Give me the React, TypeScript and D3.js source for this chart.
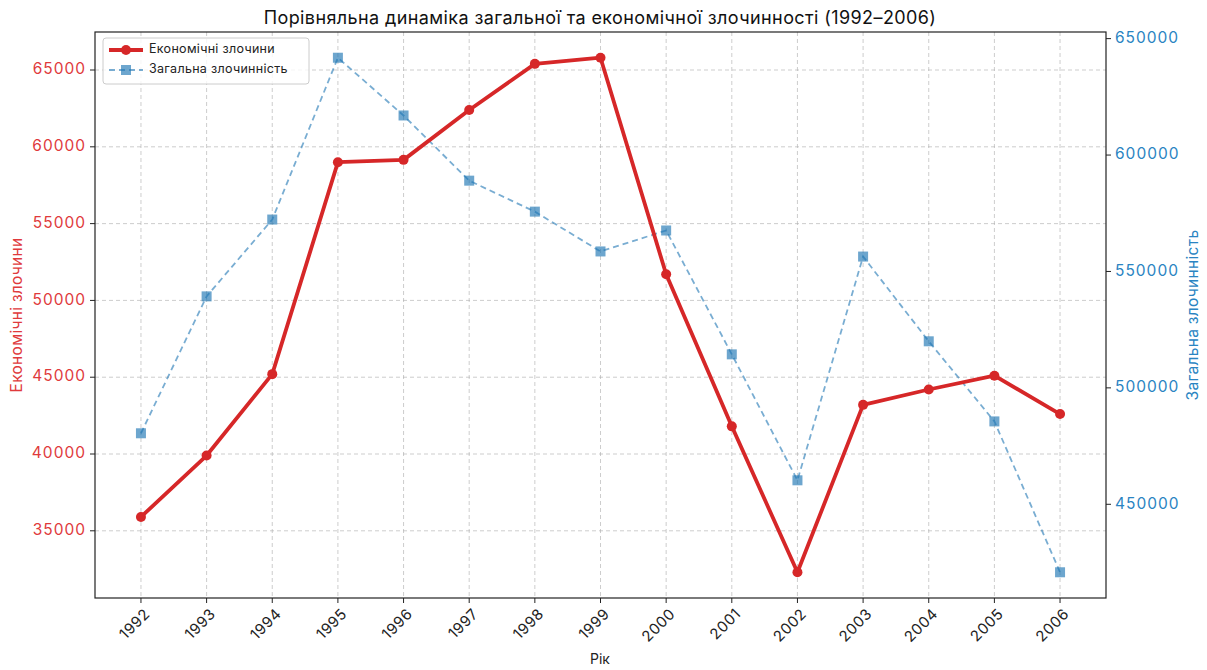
import React from "react";
import * as d3 from "d3";

const years = [1992, 1993, 1994, 1995, 1996, 1997, 1998, 1999, 2000, 2001, 2002, 2003, 2004, 2005, 2006];
const economic = [35900, 39900, 45200, 59000, 59150, 62400, 65400, 65800, 51700, 41800, 32300, 43200, 44200, 45100, 42600];
const total = [480500, 539300, 572300, 641800, 617000, 589000, 575700, 558600, 567600, 514400, 460300, 556400, 520000, 485600, 420800];
const leftTicks = [35000, 40000, 45000, 50000, 55000, 60000, 65000];
const rightTicks = [450000, 500000, 550000, 600000, 650000];

const W = 1207, H = 670;
const L = 95, R = 1106, T = 32, B = 598;
const RED = "#d62728";
const BLUE = "#1f77b4";
const FONT = "Inter, 'Noto Sans', sans-serif";

function pad(min: number, max: number): [number, number] {
  const m = (max - min) * 0.05;
  return [min - m, max + m];
}

export default function App() {
  const x = d3.scaleLinear().domain(pad(years[0], years[years.length - 1])).range([L, R]);
  const yL = d3.scaleLinear().domain(pad(d3.min(economic)!, d3.max(economic)!)).range([B, T]);
  const yR = d3.scaleLinear().domain(pad(d3.min(total)!, d3.max(total)!)).range([B, T]);

  const lineE = d3.line<number>().x((_, i) => x(years[i])).y((d) => yL(d));
  const lineT = d3.line<number>().x((_, i) => x(years[i])).y((d) => yR(d));

  return (
    <svg width={W} height={H} style={{ display: "block", position: "absolute", left: 0, top: 0 }} fontFamily={FONT}>
      <rect width={W} height={H} fill="#fff" />
      {/* grid */}
      {years.map((yr) => (
        <line key={"gx" + yr} x1={x(yr)} x2={x(yr)} y1={T} y2={B} stroke="#b0b0b0" strokeOpacity={0.7} strokeDasharray="4,3" strokeWidth={0.9} />
      ))}
      {leftTicks.map((t) => (
        <line key={"gy" + t} x1={L} x2={R} y1={yL(t)} y2={yL(t)} stroke="#b0b0b0" strokeOpacity={0.7} strokeDasharray="4,3" strokeWidth={0.9} />
      ))}
      {/* total series */}
      <path d={lineT(total)!} fill="none" stroke={BLUE} strokeOpacity={0.6} strokeWidth={1.8} strokeDasharray="6,4" />
      {total.map((v, i) => (
        <rect key={"t" + i} x={x(years[i]) - 5} y={yR(v) - 5} width={10} height={10} fill={BLUE} fillOpacity={0.65} />
      ))}
      {/* economic series */}
      <path d={lineE(economic)!} fill="none" stroke={RED} strokeWidth={3.8} strokeLinejoin="round" />
      {economic.map((v, i) => (
        <circle key={"e" + i} cx={x(years[i])} cy={yL(v)} r={5} fill={RED} />
      ))}
      {/* frame */}
      <rect x={L} y={T} width={R - L} height={B - T} fill="none" stroke="#222" strokeWidth={1.2} />
      {/* x ticks */}
      {years.map((yr) => (
        <g key={"xt" + yr}>
          <line x1={x(yr)} x2={x(yr)} y1={B} y2={B + 5} stroke="#222" />
          <text transform={`translate(${x(yr) + 7},${B + 14}) rotate(-45)`} textAnchor="end" dominantBaseline="middle" fontSize={15} letterSpacing={0.5} fill="#222">{yr}</text>
        </g>
      ))}
      {/* left ticks */}
      {leftTicks.map((t) => (
        <g key={"lt" + t}>
          <line x1={L - 5} x2={L} y1={yL(t)} y2={yL(t)} stroke="#222" />
          <text x={L - 9} y={yL(t)} textAnchor="end" dominantBaseline="middle" fontSize={15.5} letterSpacing={1} fill="#e03a3c">{t}</text>
        </g>
      ))}
      {/* right ticks */}
      {rightTicks.map((t) => (
        <g key={"rt" + t}>
          <line x1={R} x2={R + 5} y1={yR(t)} y2={yR(t)} stroke="#222" />
          <text x={R + 9} y={yR(t)} textAnchor="start" dominantBaseline="middle" fontSize={15.5} letterSpacing={1} fill="#2a84c2">{t}</text>
        </g>
      ))}
      {/* labels */}
      <text x={600} y={24} textAnchor="middle" fontSize={18} letterSpacing={0.4} fill="#111">Порівняльна динаміка загальної та економічної злочинності (1992–2006)</text>
      <text x={600} y={664} textAnchor="middle" fontSize={14} fill="#222">Рік</text>
      <text transform={`translate(22,${(T + B) / 2}) rotate(-90)`} textAnchor="middle" fontSize={15.5} letterSpacing={0.3} fill="#e03a3c">Економічні злочини</text>
      <text transform={`translate(1198,${(T + B) / 2}) rotate(-90)`} textAnchor="middle" fontSize={15.5} letterSpacing={0.3} fill="#2a84c2">Загальна злочинність</text>
      {/* legend */}
      <g transform="translate(103,38)">
        <rect x={0} y={0} width={206} height={46} rx={3} fill="#fff" fillOpacity={0.8} stroke="#ccc" />
        <line x1={6} x2={40} y1={12} y2={12} stroke={RED} strokeWidth={3.8} />
        <circle cx={23} cy={12} r={5} fill={RED} />
        <text x={46} y={12} dominantBaseline="middle" fontSize={12.5} letterSpacing={0.3} fill="#222">Економічні злочини</text>
        <line x1={6} x2={40} y1={32} y2={32} stroke={BLUE} strokeOpacity={0.6} strokeWidth={1.8} strokeDasharray="6,4" />
        <rect x={18} y={27} width={10} height={10} fill={BLUE} fillOpacity={0.65} />
        <text x={46} y={32} dominantBaseline="middle" fontSize={12.5} letterSpacing={0.3} fill="#222">Загальна злочинність</text>
      </g>
    </svg>
  );
}
